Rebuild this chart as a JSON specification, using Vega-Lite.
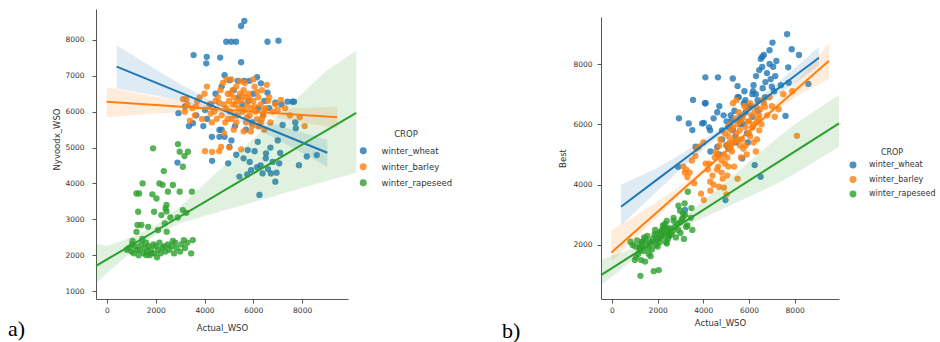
{
  "$schema": "https://vega.github.io/schema/vega-lite/v6.json",
  "background": "white",
  "padding": {"left": 8, "top": 9, "right": 0, "bottom": 0},
  "config": {
    "view": {"stroke": null},
    "font": "DejaVu Sans",
    "axis": {"domainColor": "#555", "tickColor": "#555", "labelColor": "#333", "titleColor": "#333", "labelFontSize": 7.5, "titleFontSize": 8.5, "titleFontWeight": "normal", "tickSize": 4, "grid": false, "labelFont": "DejaVu Sans", "titleFont": "DejaVu Sans"},
    "legend": {"labelFont": "DejaVu Sans", "titleFont": "DejaVu Sans", "labelColor": "#333", "titleColor": "#333"}
  },
  "datasets": {
    "pts": [
      {"CROP":"winter_wheat","Actual_WSO":5630,"Nyvoodx_WSO":8530,"Best":6250},
      {"CROP":"winter_wheat","Actual_WSO":5500,"Nyvoodx_WSO":8390,"Best":6900},
      {"CROP":"winter_wheat","Actual_WSO":4890,"Nyvoodx_WSO":7950,"Best":6300},
      {"CROP":"winter_wheat","Actual_WSO":5090,"Nyvoodx_WSO":7950,"Best":5900},
      {"CROP":"winter_wheat","Actual_WSO":5290,"Nyvoodx_WSO":7950,"Best":7520},
      {"CROP":"winter_wheat","Actual_WSO":6580,"Nyvoodx_WSO":7950,"Best":8240},
      {"CROP":"winter_wheat","Actual_WSO":7030,"Nyvoodx_WSO":7980,"Best":8710},
      {"CROP":"winter_wheat","Actual_WSO":3550,"Nyvoodx_WSO":7580,"Best":6810},
      {"CROP":"winter_wheat","Actual_WSO":4090,"Nyvoodx_WSO":7530,"Best":7560},
      {"CROP":"winter_wheat","Actual_WSO":4070,"Nyvoodx_WSO":7350,"Best":6700},
      {"CROP":"winter_wheat","Actual_WSO":4640,"Nyvoodx_WSO":7510,"Best":7560},
      {"CROP":"winter_wheat","Actual_WSO":5500,"Nyvoodx_WSO":7380,"Best":7270},
      {"CROP":"winter_wheat","Actual_WSO":4820,"Nyvoodx_WSO":7020,"Best":5800},
      {"CROP":"winter_wheat","Actual_WSO":5020,"Nyvoodx_WSO":6880,"Best":6100},
      {"CROP":"winter_wheat","Actual_WSO":5360,"Nyvoodx_WSO":6860,"Best":6450},
      {"CROP":"winter_wheat","Actual_WSO":5630,"Nyvoodx_WSO":6860,"Best":6000},
      {"CROP":"winter_wheat","Actual_WSO":5840,"Nyvoodx_WSO":6860,"Best":6800},
      {"CROP":"winter_wheat","Actual_WSO":6150,"Nyvoodx_WSO":6960,"Best":7000},
      {"CROP":"winter_wheat","Actual_WSO":6310,"Nyvoodx_WSO":6790,"Best":7600},
      {"CROP":"winter_wheat","Actual_WSO":6580,"Nyvoodx_WSO":6530,"Best":7900},
      {"CROP":"winter_wheat","Actual_WSO":7400,"Nyvoodx_WSO":6280,"Best":7300},
      {"CROP":"winter_wheat","Actual_WSO":7600,"Nyvoodx_WSO":6280,"Best":6280},
      {"CROP":"winter_wheat","Actual_WSO":7670,"Nyvoodx_WSO":6280,"Best":8990},
      {"CROP":"winter_wheat","Actual_WSO":2930,"Nyvoodx_WSO":5960,"Best":6200},
      {"CROP":"winter_wheat","Actual_WSO":3520,"Nyvoodx_WSO":5680,"Best":5810},
      {"CROP":"winter_wheat","Actual_WSO":3360,"Nyvoodx_WSO":5600,"Best":6030},
      {"CROP":"winter_wheat","Actual_WSO":4610,"Nyvoodx_WSO":5490,"Best":6400},
      {"CROP":"winter_wheat","Actual_WSO":4610,"Nyvoodx_WSO":5300,"Best":5250},
      {"CROP":"winter_wheat","Actual_WSO":4820,"Nyvoodx_WSO":5300,"Best":5500},
      {"CROP":"winter_wheat","Actual_WSO":4310,"Nyvoodx_WSO":4630,"Best":5100},
      {"CROP":"winter_wheat","Actual_WSO":5020,"Nyvoodx_WSO":5020,"Best":5310},
      {"CROP":"winter_wheat","Actual_WSO":5770,"Nyvoodx_WSO":4930,"Best":6700},
      {"CROP":"winter_wheat","Actual_WSO":6180,"Nyvoodx_WSO":5160,"Best":7100},
      {"CROP":"winter_wheat","Actual_WSO":6520,"Nyvoodx_WSO":4840,"Best":8170},
      {"CROP":"winter_wheat","Actual_WSO":6790,"Nyvoodx_WSO":4600,"Best":7700},
      {"CROP":"winter_wheat","Actual_WSO":4970,"Nyvoodx_WSO":4560,"Best":3490},
      {"CROP":"winter_wheat","Actual_WSO":5430,"Nyvoodx_WSO":4190,"Best":5400},
      {"CROP":"winter_wheat","Actual_WSO":5910,"Nyvoodx_WSO":4370,"Best":5700},
      {"CROP":"winter_wheat","Actual_WSO":6380,"Nyvoodx_WSO":4280,"Best":6800},
      {"CROP":"winter_wheat","Actual_WSO":6720,"Nyvoodx_WSO":4280,"Best":7400},
      {"CROP":"winter_wheat","Actual_WSO":6900,"Nyvoodx_WSO":4050,"Best":8460},
      {"CROP":"winter_wheat","Actual_WSO":7060,"Nyvoodx_WSO":4560,"Best":7910},
      {"CROP":"winter_wheat","Actual_WSO":7870,"Nyvoodx_WSO":4510,"Best":8490},
      {"CROP":"winter_wheat","Actual_WSO":8190,"Nyvoodx_WSO":4750,"Best":8300},
      {"CROP":"winter_wheat","Actual_WSO":8600,"Nyvoodx_WSO":4790,"Best":7340},
      {"CROP":"winter_wheat","Actual_WSO":6250,"Nyvoodx_WSO":3680,"Best":4650},
      {"CROP":"winter_wheat","Actual_WSO":6510,"Nyvoodx_WSO":4700,"Best":4260},
      {"CROP":"winter_wheat","Actual_WSO":7200,"Nyvoodx_WSO":5630,"Best":8100},
      {"CROP":"winter_wheat","Actual_WSO":7740,"Nyvoodx_WSO":5540,"Best":7380},
      {"CROP":"winter_wheat","Actual_WSO":7720,"Nyvoodx_WSO":5700,"Best":7890},
      {"CROP":"winter_wheat","Actual_WSO":5700,"Nyvoodx_WSO":5500,"Best":4870},
      {"CROP":"winter_wheat","Actual_WSO":3200,"Nyvoodx_WSO":6150,"Best":3160},
      {"CROP":"winter_wheat","Actual_WSO":2890,"Nyvoodx_WSO":4580,"Best":4590},
      {"CROP":"winter_wheat","Actual_WSO":3660,"Nyvoodx_WSO":5900,"Best":5260},
      {"CROP":"winter_wheat","Actual_WSO":4100,"Nyvoodx_WSO":5800,"Best":6700},
      {"CROP":"winter_wheat","Actual_WSO":4020,"Nyvoodx_WSO":6050,"Best":6050},
      {"CROP":"winter_wheat","Actual_WSO":4250,"Nyvoodx_WSO":6200,"Best":5900},
      {"CROP":"winter_wheat","Actual_WSO":4450,"Nyvoodx_WSO":6500,"Best":6200},
      {"CROP":"winter_wheat","Actual_WSO":4700,"Nyvoodx_WSO":6700,"Best":6600},
      {"CROP":"winter_wheat","Actual_WSO":5200,"Nyvoodx_WSO":6600,"Best":6300},
      {"CROP":"winter_wheat","Actual_WSO":5400,"Nyvoodx_WSO":6400,"Best":5600},
      {"CROP":"winter_wheat","Actual_WSO":5550,"Nyvoodx_WSO":6200,"Best":6900},
      {"CROP":"winter_wheat","Actual_WSO":5800,"Nyvoodx_WSO":6300,"Best":7100},
      {"CROP":"winter_wheat","Actual_WSO":6000,"Nyvoodx_WSO":6500,"Best":6600},
      {"CROP":"winter_wheat","Actual_WSO":6200,"Nyvoodx_WSO":6100,"Best":7300},
      {"CROP":"winter_wheat","Actual_WSO":6450,"Nyvoodx_WSO":6300,"Best":7800},
      {"CROP":"winter_wheat","Actual_WSO":6650,"Nyvoodx_WSO":6100,"Best":8300},
      {"CROP":"winter_wheat","Actual_WSO":6900,"Nyvoodx_WSO":6250,"Best":8000},
      {"CROP":"winter_wheat","Actual_WSO":7150,"Nyvoodx_WSO":6200,"Best":7600},
      {"CROP":"winter_wheat","Actual_WSO":5100,"Nyvoodx_WSO":5200,"Best":5200},
      {"CROP":"winter_wheat","Actual_WSO":5300,"Nyvoodx_WSO":4800,"Best":5800},
      {"CROP":"winter_wheat","Actual_WSO":5600,"Nyvoodx_WSO":4700,"Best":6100},
      {"CROP":"winter_wheat","Actual_WSO":5850,"Nyvoodx_WSO":4600,"Best":6400},
      {"CROP":"winter_wheat","Actual_WSO":6050,"Nyvoodx_WSO":4900,"Best":6600},
      {"CROP":"winter_wheat","Actual_WSO":6300,"Nyvoodx_WSO":4500,"Best":7000},
      {"CROP":"winter_wheat","Actual_WSO":6600,"Nyvoodx_WSO":4400,"Best":7200},
      {"CROP":"winter_wheat","Actual_WSO":6950,"Nyvoodx_WSO":4300,"Best":7500},
      {"CROP":"winter_wheat","Actual_WSO":7100,"Nyvoodx_WSO":4850,"Best":7100},
      {"CROP":"winter_wheat","Actual_WSO":5750,"Nyvoodx_WSO":4250,"Best":6000},
      {"CROP":"winter_wheat","Actual_WSO":4700,"Nyvoodx_WSO":5500,"Best":5000},
      {"CROP":"winter_wheat","Actual_WSO":5950,"Nyvoodx_WSO":5700,"Best":5400},
      {"CROP":"winter_wheat","Actual_WSO":6400,"Nyvoodx_WSO":5900,"Best":6450},
      {"CROP":"winter_wheat","Actual_WSO":3950,"Nyvoodx_WSO":5600,"Best":6030},
      {"CROP":"winter_wheat","Actual_WSO":4300,"Nyvoodx_WSO":5300,"Best":5800},
      {"CROP":"winter_wheat","Actual_WSO":5250,"Nyvoodx_WSO":5600,"Best":6150},
      {"CROP":"winter_wheat","Actual_WSO":6700,"Nyvoodx_WSO":5000,"Best":6900},
      {"CROP":"winter_wheat","Actual_WSO":7000,"Nyvoodx_WSO":5200,"Best":7250},
      {"CROP":"winter_wheat","Actual_WSO":6150,"Nyvoodx_WSO":4450,"Best":6250},
      {"CROP":"winter_barley","Actual_WSO":3120,"Nyvoodx_WSO":6350,"Best":4600},
      {"CROP":"winter_barley","Actual_WSO":3190,"Nyvoodx_WSO":6000,"Best":4400},
      {"CROP":"winter_barley","Actual_WSO":3300,"Nyvoodx_WSO":6200,"Best":4250},
      {"CROP":"winter_barley","Actual_WSO":3500,"Nyvoodx_WSO":6100,"Best":4800},
      {"CROP":"winter_barley","Actual_WSO":3700,"Nyvoodx_WSO":6300,"Best":5200},
      {"CROP":"winter_barley","Actual_WSO":3800,"Nyvoodx_WSO":6400,"Best":5260},
      {"CROP":"winter_barley","Actual_WSO":4020,"Nyvoodx_WSO":4900,"Best":3490},
      {"CROP":"winter_barley","Actual_WSO":4310,"Nyvoodx_WSO":4880,"Best":3800},
      {"CROP":"winter_barley","Actual_WSO":4680,"Nyvoodx_WSO":5020,"Best":3930},
      {"CROP":"winter_barley","Actual_WSO":4600,"Nyvoodx_WSO":4900,"Best":4500},
      {"CROP":"winter_barley","Actual_WSO":5020,"Nyvoodx_WSO":5000,"Best":3680},
      {"CROP":"winter_barley","Actual_WSO":5500,"Nyvoodx_WSO":4950,"Best":4200},
      {"CROP":"winter_barley","Actual_WSO":4000,"Nyvoodx_WSO":6500,"Best":5400},
      {"CROP":"winter_barley","Actual_WSO":4100,"Nyvoodx_WSO":6700,"Best":4700},
      {"CROP":"winter_barley","Actual_WSO":4200,"Nyvoodx_WSO":6200,"Best":4500},
      {"CROP":"winter_barley","Actual_WSO":4400,"Nyvoodx_WSO":6000,"Best":4300},
      {"CROP":"winter_barley","Actual_WSO":4500,"Nyvoodx_WSO":5800,"Best":4900},
      {"CROP":"winter_barley","Actual_WSO":4550,"Nyvoodx_WSO":6400,"Best":5100},
      {"CROP":"winter_barley","Actual_WSO":4650,"Nyvoodx_WSO":6600,"Best":4600},
      {"CROP":"winter_barley","Actual_WSO":4750,"Nyvoodx_WSO":6800,"Best":5500},
      {"CROP":"winter_barley","Actual_WSO":4800,"Nyvoodx_WSO":6200,"Best":4800},
      {"CROP":"winter_barley","Actual_WSO":4850,"Nyvoodx_WSO":5700,"Best":4200},
      {"CROP":"winter_barley","Actual_WSO":4900,"Nyvoodx_WSO":6900,"Best":5000},
      {"CROP":"winter_barley","Actual_WSO":4950,"Nyvoodx_WSO":6500,"Best":4700},
      {"CROP":"winter_barley","Actual_WSO":5000,"Nyvoodx_WSO":6300,"Best":5300},
      {"CROP":"winter_barley","Actual_WSO":5050,"Nyvoodx_WSO":6000,"Best":4900},
      {"CROP":"winter_barley","Actual_WSO":5100,"Nyvoodx_WSO":5800,"Best":5600},
      {"CROP":"winter_barley","Actual_WSO":5150,"Nyvoodx_WSO":6600,"Best":5400},
      {"CROP":"winter_barley","Actual_WSO":5200,"Nyvoodx_WSO":6400,"Best":5800},
      {"CROP":"winter_barley","Actual_WSO":5250,"Nyvoodx_WSO":6200,"Best":5100},
      {"CROP":"winter_barley","Actual_WSO":5300,"Nyvoodx_WSO":6700,"Best":5900},
      {"CROP":"winter_barley","Actual_WSO":5350,"Nyvoodx_WSO":5900,"Best":5500},
      {"CROP":"winter_barley","Actual_WSO":5400,"Nyvoodx_WSO":6100,"Best":6200},
      {"CROP":"winter_barley","Actual_WSO":5450,"Nyvoodx_WSO":6500,"Best":5700},
      {"CROP":"winter_barley","Actual_WSO":5500,"Nyvoodx_WSO":6300,"Best":6000},
      {"CROP":"winter_barley","Actual_WSO":5550,"Nyvoodx_WSO":6000,"Best":6400},
      {"CROP":"winter_barley","Actual_WSO":5600,"Nyvoodx_WSO":6600,"Best":5800},
      {"CROP":"winter_barley","Actual_WSO":5650,"Nyvoodx_WSO":6800,"Best":6100},
      {"CROP":"winter_barley","Actual_WSO":5700,"Nyvoodx_WSO":5700,"Best":5500},
      {"CROP":"winter_barley","Actual_WSO":5750,"Nyvoodx_WSO":6200,"Best":6300},
      {"CROP":"winter_barley","Actual_WSO":5800,"Nyvoodx_WSO":6500,"Best":6600},
      {"CROP":"winter_barley","Actual_WSO":5850,"Nyvoodx_WSO":5900,"Best":5900},
      {"CROP":"winter_barley","Actual_WSO":5900,"Nyvoodx_WSO":6100,"Best":6500},
      {"CROP":"winter_barley","Actual_WSO":5950,"Nyvoodx_WSO":5600,"Best":6100},
      {"CROP":"winter_barley","Actual_WSO":6000,"Nyvoodx_WSO":6300,"Best":5700},
      {"CROP":"winter_barley","Actual_WSO":6050,"Nyvoodx_WSO":6700,"Best":6700},
      {"CROP":"winter_barley","Actual_WSO":6100,"Nyvoodx_WSO":6000,"Best":6300},
      {"CROP":"winter_barley","Actual_WSO":6150,"Nyvoodx_WSO":5800,"Best":5900},
      {"CROP":"winter_barley","Actual_WSO":6200,"Nyvoodx_WSO":6400,"Best":6000},
      {"CROP":"winter_barley","Actual_WSO":6250,"Nyvoodx_WSO":5600,"Best":6400},
      {"CROP":"winter_barley","Actual_WSO":6300,"Nyvoodx_WSO":6200,"Best":6600},
      {"CROP":"winter_barley","Actual_WSO":6350,"Nyvoodx_WSO":6600,"Best":5500},
      {"CROP":"winter_barley","Actual_WSO":6400,"Nyvoodx_WSO":5900,"Best":6200},
      {"CROP":"winter_barley","Actual_WSO":6450,"Nyvoodx_WSO":5500,"Best":5800},
      {"CROP":"winter_barley","Actual_WSO":6500,"Nyvoodx_WSO":6100,"Best":6500},
      {"CROP":"winter_barley","Actual_WSO":6600,"Nyvoodx_WSO":6300,"Best":6800},
      {"CROP":"winter_barley","Actual_WSO":6700,"Nyvoodx_WSO":5700,"Best":6580},
      {"CROP":"winter_barley","Actual_WSO":6800,"Nyvoodx_WSO":6000,"Best":6300},
      {"CROP":"winter_barley","Actual_WSO":6900,"Nyvoodx_WSO":6200,"Best":6900},
      {"CROP":"winter_barley","Actual_WSO":7130,"Nyvoodx_WSO":6330,"Best":6250},
      {"CROP":"winter_barley","Actual_WSO":7300,"Nyvoodx_WSO":6100,"Best":6500},
      {"CROP":"winter_barley","Actual_WSO":7500,"Nyvoodx_WSO":5900,"Best":7000},
      {"CROP":"winter_barley","Actual_WSO":8100,"Nyvoodx_WSO":5600,"Best":5620},
      {"CROP":"winter_barley","Actual_WSO":7900,"Nyvoodx_WSO":5850,"Best":7100},
      {"CROP":"winter_barley","Actual_WSO":5200,"Nyvoodx_WSO":5500,"Best":5200},
      {"CROP":"winter_barley","Actual_WSO":5600,"Nyvoodx_WSO":5450,"Best":5300},
      {"CROP":"winter_barley","Actual_WSO":5900,"Nyvoodx_WSO":5450,"Best":5000},
      {"CROP":"winter_barley","Actual_WSO":6200,"Nyvoodx_WSO":5600,"Best":5400},
      {"CROP":"winter_barley","Actual_WSO":5300,"Nyvoodx_WSO":5700,"Best":6700},
      {"CROP":"winter_barley","Actual_WSO":4700,"Nyvoodx_WSO":5900,"Best":5300},
      {"CROP":"winter_barley","Actual_WSO":4300,"Nyvoodx_WSO":5700,"Best":4100},
      {"CROP":"winter_barley","Actual_WSO":3900,"Nyvoodx_WSO":5800,"Best":3700},
      {"CROP":"winter_barley","Actual_WSO":4800,"Nyvoodx_WSO":5400,"Best":4400},
      {"CROP":"winter_barley","Actual_WSO":5100,"Nyvoodx_WSO":6900,"Best":4600},
      {"CROP":"winter_barley","Actual_WSO":5450,"Nyvoodx_WSO":6850,"Best":6800},
      {"CROP":"winter_barley","Actual_WSO":6000,"Nyvoodx_WSO":6900,"Best":6100},
      {"CROP":"winter_barley","Actual_WSO":6550,"Nyvoodx_WSO":6750,"Best":6000},
      {"CROP":"winter_barley","Actual_WSO":3600,"Nyvoodx_WSO":5900,"Best":4050},
      {"CROP":"winter_barley","Actual_WSO":3400,"Nyvoodx_WSO":5750,"Best":4400},
      {"CROP":"winter_barley","Actual_WSO":4450,"Nyvoodx_WSO":6300,"Best":4000},
      {"CROP":"winter_barley","Actual_WSO":4900,"Nyvoodx_WSO":6100,"Best":3900},
      {"CROP":"winter_barley","Actual_WSO":5050,"Nyvoodx_WSO":6500,"Best":4300},
      {"CROP":"winter_barley","Actual_WSO":5350,"Nyvoodx_WSO":6300,"Best":4600},
      {"CROP":"winter_barley","Actual_WSO":5650,"Nyvoodx_WSO":6050,"Best":4900},
      {"CROP":"winter_barley","Actual_WSO":5750,"Nyvoodx_WSO":5850,"Best":5200},
      {"CROP":"winter_barley","Actual_WSO":6050,"Nyvoodx_WSO":6150,"Best":5600},
      {"CROP":"winter_barley","Actual_WSO":6350,"Nyvoodx_WSO":5800,"Best":6100},
      {"CROP":"winter_barley","Actual_WSO":4600,"Nyvoodx_WSO":6250,"Best":5000},
      {"CROP":"winter_barley","Actual_WSO":5250,"Nyvoodx_WSO":5900,"Best":5400},
      {"CROP":"winter_barley","Actual_WSO":5550,"Nyvoodx_WSO":6450,"Best":5500},
      {"CROP":"winter_barley","Actual_WSO":5850,"Nyvoodx_WSO":6350,"Best":5300},
      {"CROP":"winter_barley","Actual_WSO":6150,"Nyvoodx_WSO":6550,"Best":5900},
      {"CROP":"winter_barley","Actual_WSO":6450,"Nyvoodx_WSO":6050,"Best":6300},
      {"CROP":"winter_barley","Actual_WSO":3250,"Nyvoodx_WSO":6350,"Best":4500},
      {"CROP":"winter_barley","Actual_WSO":3650,"Nyvoodx_WSO":6150,"Best":4950},
      {"CROP":"winter_barley","Actual_WSO":4250,"Nyvoodx_WSO":5950,"Best":4700},
      {"CROP":"winter_barley","Actual_WSO":4950,"Nyvoodx_WSO":5800,"Best":5700},
      {"CROP":"winter_barley","Actual_WSO":5150,"Nyvoodx_WSO":6200,"Best":6000},
      {"CROP":"winter_barley","Actual_WSO":5700,"Nyvoodx_WSO":6400,"Best":6200},
      {"CROP":"winter_barley","Actual_WSO":6300,"Nyvoodx_WSO":5700,"Best":5100},
      {"CROP":"winter_barley","Actual_WSO":6650,"Nyvoodx_WSO":6400,"Best":6700},
      {"CROP":"winter_barley","Actual_WSO":7000,"Nyvoodx_WSO":6050,"Best":6600},
      {"CROP":"winter_rapeseed","Actual_WSO":1890,"Nyvoodx_WSO":4978,"Best":2500},
      {"CROP":"winter_rapeseed","Actual_WSO":2910,"Nyvoodx_WSO":5098,"Best":3300},
      {"CROP":"winter_rapeseed","Actual_WSO":2980,"Nyvoodx_WSO":4884,"Best":3135},
      {"CROP":"winter_rapeseed","Actual_WSO":3320,"Nyvoodx_WSO":4884,"Best":3764},
      {"CROP":"winter_rapeseed","Actual_WSO":3180,"Nyvoodx_WSO":4763,"Best":3380},
      {"CROP":"winter_rapeseed","Actual_WSO":3110,"Nyvoodx_WSO":4465,"Best":2900},
      {"CROP":"winter_rapeseed","Actual_WSO":2330,"Nyvoodx_WSO":4345,"Best":2700},
      {"CROP":"winter_rapeseed","Actual_WSO":1460,"Nyvoodx_WSO":4000,"Best":2200},
      {"CROP":"winter_rapeseed","Actual_WSO":2150,"Nyvoodx_WSO":4000,"Best":2450},
      {"CROP":"winter_rapeseed","Actual_WSO":2280,"Nyvoodx_WSO":3960,"Best":2600},
      {"CROP":"winter_rapeseed","Actual_WSO":2700,"Nyvoodx_WSO":3955,"Best":2900},
      {"CROP":"winter_rapeseed","Actual_WSO":2500,"Nyvoodx_WSO":3770,"Best":2300},
      {"CROP":"winter_rapeseed","Actual_WSO":2980,"Nyvoodx_WSO":3770,"Best":2750},
      {"CROP":"winter_rapeseed","Actual_WSO":3480,"Nyvoodx_WSO":3770,"Best":3224},
      {"CROP":"winter_rapeseed","Actual_WSO":1210,"Nyvoodx_WSO":3720,"Best":1900},
      {"CROP":"winter_rapeseed","Actual_WSO":1320,"Nyvoodx_WSO":3720,"Best":2100},
      {"CROP":"winter_rapeseed","Actual_WSO":1860,"Nyvoodx_WSO":3695,"Best":2350},
      {"CROP":"winter_rapeseed","Actual_WSO":2030,"Nyvoodx_WSO":3580,"Best":2200},
      {"CROP":"winter_rapeseed","Actual_WSO":2440,"Nyvoodx_WSO":3400,"Best":2550},
      {"CROP":"winter_rapeseed","Actual_WSO":2400,"Nyvoodx_WSO":3300,"Best":2800},
      {"CROP":"winter_rapeseed","Actual_WSO":2440,"Nyvoodx_WSO":3220,"Best":2450},
      {"CROP":"winter_rapeseed","Actual_WSO":3110,"Nyvoodx_WSO":3257,"Best":3050},
      {"CROP":"winter_rapeseed","Actual_WSO":3250,"Nyvoodx_WSO":3180,"Best":2600},
      {"CROP":"winter_rapeseed","Actual_WSO":1280,"Nyvoodx_WSO":3210,"Best":1500},
      {"CROP":"winter_rapeseed","Actual_WSO":1930,"Nyvoodx_WSO":3210,"Best":2000},
      {"CROP":"winter_rapeseed","Actual_WSO":2230,"Nyvoodx_WSO":3118,"Best":2650},
      {"CROP":"winter_rapeseed","Actual_WSO":2600,"Nyvoodx_WSO":3050,"Best":2350},
      {"CROP":"winter_rapeseed","Actual_WSO":2900,"Nyvoodx_WSO":3050,"Best":2500},
      {"CROP":"winter_rapeseed","Actual_WSO":1250,"Nyvoodx_WSO":2840,"Best":2000},
      {"CROP":"winter_rapeseed","Actual_WSO":1410,"Nyvoodx_WSO":2840,"Best":2250},
      {"CROP":"winter_rapeseed","Actual_WSO":1690,"Nyvoodx_WSO":2790,"Best":1630},
      {"CROP":"winter_rapeseed","Actual_WSO":2370,"Nyvoodx_WSO":2886,"Best":2100},
      {"CROP":"winter_rapeseed","Actual_WSO":2090,"Nyvoodx_WSO":2700,"Best":2400},
      {"CROP":"winter_rapeseed","Actual_WSO":1210,"Nyvoodx_WSO":2650,"Best":1800},
      {"CROP":"winter_rapeseed","Actual_WSO":2450,"Nyvoodx_WSO":2650,"Best":2200},
      {"CROP":"winter_rapeseed","Actual_WSO":3520,"Nyvoodx_WSO":2420,"Best":2500},
      {"CROP":"winter_rapeseed","Actual_WSO":3150,"Nyvoodx_WSO":2420,"Best":2200},
      {"CROP":"winter_rapeseed","Actual_WSO":2050,"Nyvoodx_WSO":1940,"Best":1167},
      {"CROP":"winter_rapeseed","Actual_WSO":1245,"Nyvoodx_WSO":2150,"Best":977},
      {"CROP":"winter_rapeseed","Actual_WSO":1829,"Nyvoodx_WSO":2050,"Best":1133},
      {"CROP":"winter_rapeseed","Actual_WSO":2268,"Nyvoodx_WSO":2200,"Best":2300},
      {"CROP":"winter_rapeseed","Actual_WSO":807,"Nyvoodx_WSO":2150,"Best":2106},
      {"CROP":"winter_rapeseed","Actual_WSO":900,"Nyvoodx_WSO":2200,"Best":2000},
      {"CROP":"winter_rapeseed","Actual_WSO":1000,"Nyvoodx_WSO":2100,"Best":1500},
      {"CROP":"winter_rapeseed","Actual_WSO":1026,"Nyvoodx_WSO":2300,"Best":1950},
      {"CROP":"winter_rapeseed","Actual_WSO":1100,"Nyvoodx_WSO":2050,"Best":2150},
      {"CROP":"winter_rapeseed","Actual_WSO":1150,"Nyvoodx_WSO":2250,"Best":1700},
      {"CROP":"winter_rapeseed","Actual_WSO":1300,"Nyvoodx_WSO":2000,"Best":1900},
      {"CROP":"winter_rapeseed","Actual_WSO":1350,"Nyvoodx_WSO":2150,"Best":2100},
      {"CROP":"winter_rapeseed","Actual_WSO":1400,"Nyvoodx_WSO":2300,"Best":1800},
      {"CROP":"winter_rapeseed","Actual_WSO":1500,"Nyvoodx_WSO":2050,"Best":2000},
      {"CROP":"winter_rapeseed","Actual_WSO":1550,"Nyvoodx_WSO":2200,"Best":2300},
      {"CROP":"winter_rapeseed","Actual_WSO":1600,"Nyvoodx_WSO":2350,"Best":1900},
      {"CROP":"winter_rapeseed","Actual_WSO":1650,"Nyvoodx_WSO":2100,"Best":2100},
      {"CROP":"winter_rapeseed","Actual_WSO":1700,"Nyvoodx_WSO":2250,"Best":2050},
      {"CROP":"winter_rapeseed","Actual_WSO":1750,"Nyvoodx_WSO":2000,"Best":1850},
      {"CROP":"winter_rapeseed","Actual_WSO":1800,"Nyvoodx_WSO":2150,"Best":2200},
      {"CROP":"winter_rapeseed","Actual_WSO":1900,"Nyvoodx_WSO":2300,"Best":2150},
      {"CROP":"winter_rapeseed","Actual_WSO":1950,"Nyvoodx_WSO":2050,"Best":2350},
      {"CROP":"winter_rapeseed","Actual_WSO":2000,"Nyvoodx_WSO":2250,"Best":1950},
      {"CROP":"winter_rapeseed","Actual_WSO":2100,"Nyvoodx_WSO":2150,"Best":2100},
      {"CROP":"winter_rapeseed","Actual_WSO":2150,"Nyvoodx_WSO":2350,"Best":2250},
      {"CROP":"winter_rapeseed","Actual_WSO":2200,"Nyvoodx_WSO":2050,"Best":2500},
      {"CROP":"winter_rapeseed","Actual_WSO":2350,"Nyvoodx_WSO":2250,"Best":2400},
      {"CROP":"winter_rapeseed","Actual_WSO":2400,"Nyvoodx_WSO":2100,"Best":2050},
      {"CROP":"winter_rapeseed","Actual_WSO":2500,"Nyvoodx_WSO":2300,"Best":2300},
      {"CROP":"winter_rapeseed","Actual_WSO":2550,"Nyvoodx_WSO":2150,"Best":2550},
      {"CROP":"winter_rapeseed","Actual_WSO":2650,"Nyvoodx_WSO":2250,"Best":2450},
      {"CROP":"winter_rapeseed","Actual_WSO":2750,"Nyvoodx_WSO":2050,"Best":2600},
      {"CROP":"winter_rapeseed","Actual_WSO":2800,"Nyvoodx_WSO":2350,"Best":2250},
      {"CROP":"winter_rapeseed","Actual_WSO":2850,"Nyvoodx_WSO":2200,"Best":2700},
      {"CROP":"winter_rapeseed","Actual_WSO":3000,"Nyvoodx_WSO":2100,"Best":2400},
      {"CROP":"winter_rapeseed","Actual_WSO":3050,"Nyvoodx_WSO":2300,"Best":2850},
      {"CROP":"winter_rapeseed","Actual_WSO":3200,"Nyvoodx_WSO":2200,"Best":3000},
      {"CROP":"winter_rapeseed","Actual_WSO":3300,"Nyvoodx_WSO":2350,"Best":2650},
      {"CROP":"winter_rapeseed","Actual_WSO":3450,"Nyvoodx_WSO":2050,"Best":2900},
      {"CROP":"winter_rapeseed","Actual_WSO":1050,"Nyvoodx_WSO":2400,"Best":1600},
      {"CROP":"winter_rapeseed","Actual_WSO":1450,"Nyvoodx_WSO":2450,"Best":1450},
      {"CROP":"winter_rapeseed","Actual_WSO":1610,"Nyvoodx_WSO":2000,"Best":1700},
      {"CROP":"winter_rapeseed","Actual_WSO":2700,"Nyvoodx_WSO":2400,"Best":2800}
    ],
    "fitA": [
      {"CROP":"winter_wheat","Actual_WSO":396,"fit":7256,"lo":6650,"hi":7850},
      {"CROP":"winter_wheat","Actual_WSO":2000,"fit":6810,"lo":6450,"hi":7180},
      {"CROP":"winter_wheat","Actual_WSO":3000,"fit":6532,"lo":6300,"hi":6770},
      {"CROP":"winter_wheat","Actual_WSO":4000,"fit":6254,"lo":6100,"hi":6400},
      {"CROP":"winter_wheat","Actual_WSO":5000,"fit":5976,"lo":5860,"hi":6100},
      {"CROP":"winter_wheat","Actual_WSO":6000,"fit":5698,"lo":5550,"hi":5840},
      {"CROP":"winter_wheat","Actual_WSO":7000,"fit":5420,"lo":5220,"hi":5620},
      {"CROP":"winter_wheat","Actual_WSO":8000,"fit":5142,"lo":4850,"hi":5420},
      {"CROP":"winter_wheat","Actual_WSO":9033,"fit":4855,"lo":4465,"hi":5210},
      {"CROP":"winter_barley","Actual_WSO":-12,"fit":6279,"lo":5843,"hi":6680},
      {"CROP":"winter_barley","Actual_WSO":2000,"fit":6186,"lo":5950,"hi":6420},
      {"CROP":"winter_barley","Actual_WSO":3500,"fit":6117,"lo":6000,"hi":6240},
      {"CROP":"winter_barley","Actual_WSO":5000,"fit":6048,"lo":5990,"hi":6110},
      {"CROP":"winter_barley","Actual_WSO":6000,"fit":6002,"lo":5930,"hi":6075},
      {"CROP":"winter_barley","Actual_WSO":7000,"fit":5956,"lo":5830,"hi":6080},
      {"CROP":"winter_barley","Actual_WSO":8000,"fit":5910,"lo":5700,"hi":6100},
      {"CROP":"winter_barley","Actual_WSO":9441,"fit":5844,"lo":5536,"hi":6140},
      {"CROP":"winter_rapeseed","Actual_WSO":-449,"fit":1700,"lo":1212,"hi":2330},
      {"CROP":"winter_rapeseed","Actual_WSO":0,"fit":1880,"lo":1500,"hi":2250},
      {"CROP":"winter_rapeseed","Actual_WSO":1000,"fit":2280,"lo":2080,"hi":2500},
      {"CROP":"winter_rapeseed","Actual_WSO":2000,"fit":2680,"lo":2560,"hi":2830},
      {"CROP":"winter_rapeseed","Actual_WSO":3000,"fit":3080,"lo":2890,"hi":3350},
      {"CROP":"winter_rapeseed","Actual_WSO":4000,"fit":3480,"lo":3090,"hi":3990},
      {"CROP":"winter_rapeseed","Actual_WSO":5000,"fit":3880,"lo":3290,"hi":4620},
      {"CROP":"winter_rapeseed","Actual_WSO":6000,"fit":4280,"lo":3480,"hi":5250},
      {"CROP":"winter_rapeseed","Actual_WSO":7000,"fit":4680,"lo":3680,"hi":5880},
      {"CROP":"winter_rapeseed","Actual_WSO":8000,"fit":5080,"lo":3870,"hi":6510},
      {"CROP":"winter_rapeseed","Actual_WSO":9000,"fit":5480,"lo":4070,"hi":7140},
      {"CROP":"winter_rapeseed","Actual_WSO":10217,"fit":5967,"lo":4300,"hi":7700}
    ],
    "fitB": [
      {"CROP":"winter_wheat","Actual_WSO":395,"fit":3267,"lo":2650,"hi":3990},
      {"CROP":"winter_wheat","Actual_WSO":2000,"fit":4182,"lo":3800,"hi":4560},
      {"CROP":"winter_wheat","Actual_WSO":3000,"fit":4752,"lo":4500,"hi":5000},
      {"CROP":"winter_wheat","Actual_WSO":4000,"fit":5322,"lo":5170,"hi":5470},
      {"CROP":"winter_wheat","Actual_WSO":5000,"fit":5892,"lo":5780,"hi":6000},
      {"CROP":"winter_wheat","Actual_WSO":6000,"fit":6462,"lo":6340,"hi":6590},
      {"CROP":"winter_wheat","Actual_WSO":7000,"fit":7032,"lo":6850,"hi":7210},
      {"CROP":"winter_wheat","Actual_WSO":8000,"fit":7602,"lo":7350,"hi":7860},
      {"CROP":"winter_wheat","Actual_WSO":9066,"fit":8210,"lo":7950,"hi":8574},
      {"CROP":"winter_barley","Actual_WSO":-26,"fit":1754,"lo":1450,"hi":2500},
      {"CROP":"winter_barley","Actual_WSO":1000,"fit":2438,"lo":2200,"hi":2950},
      {"CROP":"winter_barley","Actual_WSO":2000,"fit":3105,"lo":2950,"hi":3450},
      {"CROP":"winter_barley","Actual_WSO":3000,"fit":3772,"lo":3680,"hi":3950},
      {"CROP":"winter_barley","Actual_WSO":4000,"fit":4439,"lo":4370,"hi":4540},
      {"CROP":"winter_barley","Actual_WSO":5000,"fit":5106,"lo":5040,"hi":5180},
      {"CROP":"winter_barley","Actual_WSO":6000,"fit":5773,"lo":5690,"hi":5870},
      {"CROP":"winter_barley","Actual_WSO":7000,"fit":6440,"lo":6320,"hi":6580},
      {"CROP":"winter_barley","Actual_WSO":8000,"fit":7107,"lo":6900,"hi":7350},
      {"CROP":"winter_barley","Actual_WSO":9504,"fit":8110,"lo":7500,"hi":8690},
      {"CROP":"winter_rapeseed","Actual_WSO":-482,"fit":1000,"lo":669,"hi":1499},
      {"CROP":"winter_rapeseed","Actual_WSO":0,"fit":1233,"lo":950,"hi":1650},
      {"CROP":"winter_rapeseed","Actual_WSO":1000,"fit":1716,"lo":1560,"hi":1900},
      {"CROP":"winter_rapeseed","Actual_WSO":2000,"fit":2199,"lo":2100,"hi":2300},
      {"CROP":"winter_rapeseed","Actual_WSO":3000,"fit":2682,"lo":2540,"hi":2820},
      {"CROP":"winter_rapeseed","Actual_WSO":4000,"fit":3165,"lo":2900,"hi":3450},
      {"CROP":"winter_rapeseed","Actual_WSO":5000,"fit":3648,"lo":3250,"hi":4100},
      {"CROP":"winter_rapeseed","Actual_WSO":6000,"fit":4131,"lo":3600,"hi":4750},
      {"CROP":"winter_rapeseed","Actual_WSO":7000,"fit":4614,"lo":3950,"hi":5400},
      {"CROP":"winter_rapeseed","Actual_WSO":8000,"fit":5097,"lo":4350,"hi":6000},
      {"CROP":"winter_rapeseed","Actual_WSO":9943,"fit":6033,"lo":5257,"hi":6972}
    ]
  },
  "columns": 2,
  "align": "none",
  "spacing": 49,
  "resolve": {"scale": {"color": "independent"}, "legend": {"color": "independent"}},
  "concat": [
    {
      "width": 252,
      "height": 290,
      "title": {"text": "a)", "orient": "bottom", "anchor": "start", "frame": "group", "dx": -88, "offset": -13, "font": "Liberation Serif", "fontSize": 22, "fontWeight": "normal", "color": "#000"},
      "encoding": {
        "x": {"field": "Actual_WSO", "type": "quantitative", "scale": {"domain": [-450, 9880], "nice": false, "zero": false},
              "axis": {"title": "Actual_WSO", "values": [0, 2000, 4000, 6000, 8000], "format": "d", "labelPadding": 3, "titlePadding": 10}}
      },
      "layer": [
        {
          "data": {"name": "pts"},
          "mark": {"type": "circle", "size": 40, "opacity": 0.8},
          "encoding": {
            "y": {"field": "Nyvoodx_WSO", "type": "quantitative", "scale": {"domain": [777, 8864], "nice": false, "zero": false},
                  "axis": {"title": "Nyvoodx_WSO", "values": [1000, 2000, 3000, 4000, 5000, 6000, 7000, 8000], "format": "d", "labelPadding": 8, "titlePadding": 3, "titleY": 130}},
            "color": {"field": "CROP", "type": "nominal", "sort": null,
                      "scale": {"domain": ["winter_wheat", "winter_barley", "winter_rapeseed"], "range": ["#1f77b4", "#ff7f0e", "#2ca02c"]},
                      "legend": {"title": "CROP", "orient": "none", "legendX": 263, "legendY": 121, "padding": 0, "titleAnchor": "middle", "titleFontSize": 8.5, "titleFontWeight": "normal", "titlePadding": 8, "labelFontSize": 8.5, "symbolType": "circle", "symbolSize": 30, "rowPadding": 4, "labelOffset": 14}}
          }
        },
        {
          "data": {"name": "fitA"},
          "mark": {"type": "area", "opacity": 0.15},
          "encoding": {
            "y": {"field": "lo", "type": "quantitative", "title": "Nyvoodx_WSO"},
            "y2": {"field": "hi"},
            "color": {"field": "CROP", "type": "nominal", "legend": null}
          }
        },
        {
          "data": {"name": "fitA"},
          "mark": {"type": "line", "strokeWidth": 2},
          "encoding": {
            "y": {"field": "fit", "type": "quantitative", "title": "Nyvoodx_WSO"},
            "color": {"field": "CROP", "type": "nominal", "legend": null}
          }
        }
      ]
    },
    {
      "width": 238,
      "height": 290,
      "title": {"text": "b)", "orient": "bottom", "anchor": "start", "frame": "group", "dx": -99, "offset": -6, "font": "Liberation Serif", "fontSize": 22, "fontWeight": "normal", "color": "#000"},
      "encoding": {
        "x": {"field": "Actual_WSO", "type": "quantitative", "scale": {"domain": [-482, 9943], "nice": false, "zero": false},
              "axis": {"title": "Actual_WSO", "values": [0, 2000, 4000, 6000, 8000], "format": "d", "labelPadding": 3, "titlePadding": 5}}
      },
      "layer": [
        {
          "data": {"name": "pts"},
          "mark": {"type": "circle", "size": 40, "opacity": 0.8},
          "encoding": {
            "y": {"field": "Best", "type": "quantitative", "scale": {"domain": [209, 9559], "range": [290, 8], "nice": false, "zero": false},
                  "axis": {"title": "Best", "values": [2000, 4000, 6000, 8000], "format": "d", "labelPadding": 5, "titlePadding": 5}},
            "color": {"field": "CROP", "type": "nominal", "sort": null,
                      "scale": {"domain": ["winter_wheat", "winter_barley", "winter_rapeseed"], "range": ["#1f77b4", "#ff7f0e", "#2ca02c"]},
                      "legend": {"title": "CROP", "orient": "none", "legendX": 248, "legendY": 140, "padding": 0, "titleAnchor": "middle", "titleFontSize": 8, "titleFontWeight": "normal", "titlePadding": 4, "labelFontSize": 8, "symbolType": "circle", "symbolSize": 30, "rowPadding": 2.5, "labelOffset": 12}}
          }
        },
        {
          "data": {"name": "fitB"},
          "mark": {"type": "area", "opacity": 0.15},
          "encoding": {
            "y": {"field": "lo", "type": "quantitative", "title": "Best"},
            "y2": {"field": "hi"},
            "color": {"field": "CROP", "type": "nominal", "legend": null}
          }
        },
        {
          "data": {"name": "fitB"},
          "mark": {"type": "line", "strokeWidth": 2},
          "encoding": {
            "y": {"field": "fit", "type": "quantitative", "title": "Best"},
            "color": {"field": "CROP", "type": "nominal", "legend": null}
          }
        }
      ]
    }
  ]
}
